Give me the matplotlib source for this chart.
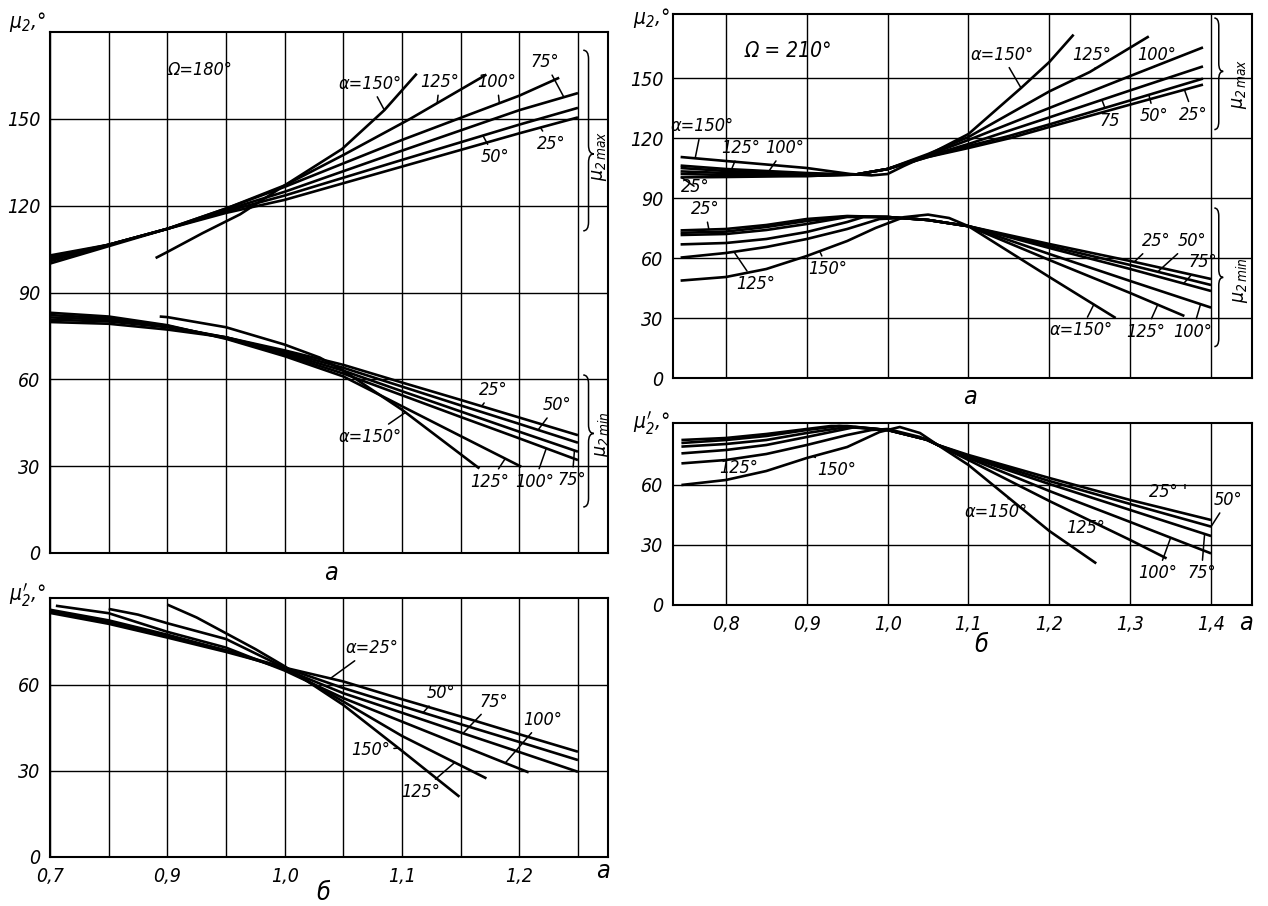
import numpy as np
import matplotlib
matplotlib.use('Agg')
import matplotlib.pyplot as plt
from matplotlib.path import Path
from matplotlib.patches import PathPatch

plt.rcParams['font.family'] = ['DejaVu Sans']
plt.rcParams['font.style'] = 'italic'
plt.rcParams['font.stretch'] = 'condensed'
plt.rcParams['mathtext.fontset'] = 'dejavusans'

ALPHAS = [25, 50, 75, 100, 125, 150]

# ---- a) Omega = 180 deg : mu2 max  (alpha -> (a, mu2))
tl_max = {
    25: ([0.7, 0.8, 0.9, 0.95, 1.0, 1.1, 1.2, 1.25], [100, 106, 112, 117.5, 122, 133.5, 145, 150.5]),
    50: ([0.7, 0.8, 0.9, 0.95, 1.0, 1.1, 1.2, 1.25], [100.8, 106.5, 112, 118, 123.5, 135.8, 148, 153.8]),
    75: ([0.7, 0.8, 0.9, 0.95, 1.0, 1.1, 1.2, 1.25], [101.5, 106.5, 112, 118.5, 124.8, 139, 153, 158.9]),
    100: ([0.7, 0.8, 0.9, 0.95, 1.0, 1.1, 1.2, 1.234], [102.2, 106.5, 112, 119, 126.5, 142.7, 158, 164.2]),
    125: ([0.7, 0.8, 0.9, 0.95, 1.0, 1.05, 1.107, 1.172], [102.8, 106.5, 112, 119, 127, 137.5, 150, 165.3]),
    150: ([0.88, 0.9, 0.93, 0.962, 1.0, 1.049, 1.085, 1.1126], [101.9, 104, 110.5, 117, 127, 139.6, 153, 165.6]),
}
# ---- a) Omega = 180 deg : mu2 min
tl_min = {
    25: ([0.7, 0.8, 0.9, 0.95, 1.0, 1.05, 1.1, 1.15, 1.2, 1.25], [79.8, 79.2, 77.2, 74.5, 70, 65, 58.9, 52.9, 46.8, 40.7]),
    50: ([0.7, 0.8, 0.9, 0.95, 1.0, 1.05, 1.1, 1.15, 1.2, 1.25], [80.6, 80, 78, 74.5, 69.5, 64, 57.5, 51, 44.6, 38.1]),
    75: ([0.7, 0.8, 0.9, 0.95, 1.0, 1.05, 1.1, 1.15, 1.2, 1.25], [81.4, 80.6, 78.3, 74.5, 69, 63, 55.9, 48.9, 41.9, 35]),
    100: ([0.7, 0.8, 0.9, 0.95, 1.0, 1.05, 1.1, 1.15, 1.2, 1.25], [82.2, 81.1, 78.5, 74.2, 68.5, 62, 54.5, 47, 39.6, 32.1]),
    125: ([0.7, 0.8, 0.9, 0.95, 1.0, 1.05, 1.1, 1.15, 1.2017], [83, 81.7, 78.7, 74, 68, 61, 50.7, 40.4, 29.8]),
    150: ([0.887, 0.9, 0.95, 1.0, 1.03, 1.05, 1.1, 1.166], [81.7, 81.5, 78, 72, 67.5, 63, 49.5, 29.2]),
}
# ---- б) Omega = 180 deg : mu2'
bl = {
    25: ([0.7, 0.8, 0.9, 0.95, 1.0, 1.05, 1.1, 1.15, 1.2, 1.25], [85.1, 81.3, 76.5, 71.5, 66, 61.2, 55, 49, 42.8, 36.7]),
    50: ([0.7, 0.8, 0.9, 0.95, 1.0, 1.05, 1.1, 1.15, 1.2, 1.25], [85.6, 81.8, 77, 72, 66, 58.9, 52.6, 46.3, 40.1, 33.8]),
    75: ([0.7, 0.8, 0.9, 0.95, 1.0, 1.05, 1.1, 1.15, 1.2, 1.25], [86.2, 82.5, 77.5, 72, 65.5, 57.1, 50.3, 43.4, 36.6, 29.7]),
    100: ([0.71, 0.8, 0.9, 0.95, 1.0, 1.05, 1.1, 1.15, 1.208], [87.6, 85, 78.5, 73, 65, 55.4, 47.2, 39, 29.5]),
    125: ([0.8, 0.85, 0.9, 0.95, 1.0, 1.05, 1.1, 1.172], [86.5, 84.5, 81.5, 76, 66, 54.2, 42.2, 27.4]),
    150: ([0.9, 0.925, 0.95, 0.975, 1.0, 1.05, 1.1, 1.149], [88, 83.5, 78, 72.5, 66.5, 53, 37, 21]),
}
# ---- a) Omega = 210 deg : mu2 max
tr_max = {
    25: ([0.744, 0.8, 0.9, 0.96, 1.0, 1.05, 1.1, 1.152, 1.2, 1.3, 1.39], [100.3, 100.5, 101, 101.7, 104.5, 110.5, 115, 120, 125.5, 136.7, 146.7]),
    50: ([0.744, 0.8, 0.9, 0.96, 1.0, 1.05, 1.1, 1.15, 1.2, 1.3, 1.39], [102, 101.5, 101, 101.7, 104.5, 110.5, 116, 121, 126.8, 138.8, 149.7]),
    75: ([0.744, 0.8, 0.9, 0.96, 1.0, 1.05, 1.1, 1.2, 1.3, 1.39], [103.3, 102.5, 101.5, 101.7, 104.5, 111, 117, 130.3, 143.8, 155.8]),
    100: ([0.744, 0.8, 0.9, 0.96, 1.0, 1.05, 1.1, 1.2, 1.3, 1.39], [105, 103.5, 102, 101.7, 104.5, 111.5, 119, 135, 151, 165.3]),
    125: ([0.744, 0.8, 0.9, 0.96, 1.0, 1.05, 1.1, 1.2, 1.25, 1.323], [106.2, 104.5, 102.5, 101.7, 104.5, 112, 120.5, 143.3, 153, 170.8]),
    150: ([0.744, 0.8, 0.9, 0.954, 0.98, 1.0, 1.02, 1.05, 1.1, 1.165, 1.2, 1.23], [110.5, 108.5, 105, 102, 101.3, 102, 106, 111.5, 122, 145, 158, 171.7]),
}
# ---- a) Omega = 210 deg : mu2 min
tr_min = {
    25: ([0.744, 0.8, 0.85, 0.9, 0.95, 1.0, 1.05, 1.1, 1.2, 1.3, 1.4], [73.8, 74.5, 76.5, 79.5, 81, 80.5, 79, 75.9, 67, 58.5, 49.5]),
    50: ([0.744, 0.8, 0.85, 0.9, 0.95, 1.0, 1.05, 1.1, 1.2, 1.3, 1.4], [72.6, 73.2, 75.5, 78.5, 80.8, 80.5, 79, 75.9, 66, 56.5, 46.5]),
    75: ([0.744, 0.8, 0.85, 0.9, 0.95, 1.0, 1.05, 1.1, 1.2, 1.3, 1.4], [71.5, 72, 74, 77, 80.5, 80.5, 79, 75.9, 65, 54.5, 43.5]),
    100: ([0.744, 0.8, 0.85, 0.9, 0.95, 0.97, 1.0, 1.05, 1.1, 1.2, 1.3, 1.4], [66.8, 67.5, 69.5, 73, 78, 80.5, 80.5, 79, 75.9, 62, 48.5, 35.2]),
    125: ([0.744, 0.8, 0.85, 0.9, 0.95, 0.99, 1.02, 1.05, 1.1, 1.2, 1.3, 1.367], [60.2, 62.5, 65.5, 69.5, 74.5, 79.5, 80, 79, 75.9, 59, 42.5, 31]),
    150: ([0.744, 0.8, 0.85, 0.9, 0.95, 0.985, 1.02, 1.05, 1.076, 1.1, 1.2, 1.282], [48.7, 50.5, 54.5, 61, 68.5, 75, 80.4, 81.7, 80, 75.9, 50.5, 30]),
}
# ---- б) Omega = 210 deg : mu2'
br = {
    25: ([0.745, 0.8, 0.85, 0.9, 0.93, 0.95, 1.0, 1.05, 1.062, 1.1, 1.2, 1.3, 1.4], [82.5, 83.5, 85.5, 88, 89.5, 89.5, 87.5, 82.5, 80, 75, 63.5, 52.5, 42.5]),
    50: ([0.745, 0.8, 0.85, 0.9, 0.94, 1.0, 1.05, 1.062, 1.1, 1.2, 1.3, 1.4], [81, 82.5, 84.5, 87.5, 89.5, 87.5, 82.5, 80, 74.5, 62, 50.5, 39.2]),
    75: ([0.745, 0.8, 0.85, 0.9, 0.95, 1.0, 1.05, 1.062, 1.1, 1.2, 1.3, 1.4], [79.2, 80.5, 82.5, 86, 89, 87.5, 82.5, 80, 74, 60.5, 47.5, 34.5]),
    100: ([0.745, 0.8, 0.85, 0.9, 0.96, 1.0, 1.05, 1.062, 1.1, 1.2, 1.3, 1.4], [75.8, 77.5, 80, 84, 89, 87.5, 82.5, 80, 73.5, 57, 41.5, 25.8]),
    125: ([0.745, 0.8, 0.85, 0.9, 0.95, 0.98, 1.0, 1.04, 1.062, 1.1, 1.2, 1.3, 1.345], [70.8, 72.5, 75.5, 80, 85, 87.5, 88, 84, 80, 72.5, 52, 32.5, 23.3]),
    150: ([0.745, 0.8, 0.85, 0.9, 0.95, 0.99, 1.015, 1.04, 1.062, 1.1, 1.2, 1.258], [60, 62.5, 67, 73.5, 79, 86.5, 89, 86, 80, 70, 37, 20.8]),
}

left_ticks = [0.7, 0.8, 0.9, 0.95, 1.0, 1.05, 1.1, 1.15, 1.2, 1.25]
left_labels = ['0,7', '', '0,9', '', '1,0', '', '1,1', '', '1,2', '']
right_ticks = [0.8, 0.9, 1.0, 1.1, 1.2, 1.3, 1.4]
right_labels = ['0,8', '0,9', '1,0', '1,1', '1,2', '1,3', '1,4']


def fwd(x):
    x = np.asarray(x, dtype=float)
    return np.where(x < 0.9, 0.9 - (0.9 - x) / 2, x)


def inv(u):
    u = np.asarray(u, dtype=float)
    return np.where(u < 0.9, 0.9 - (0.9 - u) * 2, u)


def setup(ax, xlim, ylim, yticks, xticks, xlabels, broken=False):
    if broken:
        ax.set_xscale('function', functions=(fwd, inv))
    ax.set_xlim(*xlim)
    ax.set_ylim(*ylim)
    ax.set_xticks(xticks)
    ax.set_xticklabels(xlabels)
    ax.set_yticks(yticks)
    ax.set_yticklabels([str(v) for v in yticks])
    ax.grid(True, color='black', lw=1.0)
    ax.set_axisbelow(True)
    ax.tick_params(length=0, labelsize=14, pad=7)
    for s in ax.spines.values():
        s.set_linewidth(1.5)


def curves(ax, data):
    for a in ALPHAS:
        xs, ys = data[a]
        ax.plot(xs, ys, color='black', lw=1.9, solid_capstyle='butt')


def tag(ax, text, txy, data, a, at, size=13):
    xs, ys = data[a]
    pt = (at, float(np.interp(at, xs, ys)))
    ax.annotate(text, xy=pt, xytext=txy, ha='center', va='center', fontsize=size,
                arrowprops=dict(arrowstyle='-', lw=1.1, color='black', shrinkA=1, shrinkB=0),
                annotation_clip=False)


def brace(ax, x, y0, y1, w, d, ym=None):
    if ym is None:
        ym = (y0 + y1) / 2
    h = x + w / 2
    verts = [(x, y1), (h, y1), (h, y1 - d), (h, ym + d), (h, ym), (x + w, ym),
             (h, ym), (h, ym - d), (h, y0 + d), (h, y0), (x, y0)]
    codes = [Path.MOVETO, Path.CURVE3, Path.CURVE3, Path.LINETO, Path.CURVE3, Path.CURVE3,
             Path.CURVE3, Path.CURVE3, Path.LINETO, Path.CURVE3, Path.CURVE3]
    ax.add_patch(PathPatch(Path(verts, codes), fill=False, lw=1.1, ec='black', clip_on=False))


fig = plt.figure(figsize=(12.68, 9.06), dpi=100)
W, H = 1268, 906


def px(x, y):
    return x / W, 1 - y / H


ax1 = fig.add_axes([50 / W, 1 - 553 / H, 558 / W, 521 / H])
ax2 = fig.add_axes([50 / W, 1 - 857 / H, 558 / W, 259 / H])
ax3 = fig.add_axes([673 / W, 1 - 378 / H, 579 / W, 364 / H])
ax4 = fig.add_axes([673 / W, 1 - 605 / H, 579 / W, 182 / H])

setup(ax1, (0.7, 1.2756), (0, 180), [0, 30, 60, 90, 120, 150], left_ticks, [''] * 10, broken=True)
setup(ax2, (0.7, 1.2756), (0, 90.3), [0, 30, 60], left_ticks, left_labels, broken=True)
setup(ax3, (0.7346, 1.4506), (0, 182), [0, 30, 60, 90, 120, 150], right_ticks, [''] * 7)
setup(ax4, (0.7346, 1.4506), (0, 91), [0, 30, 60], right_ticks, right_labels)

# ---------- top left, Omega = 180
curves(ax1, tl_max)
curves(ax1, tl_min)
ax1.text(0.9, 166.7, 'Ω=180°', fontsize=13, va='center')
tag(ax1, 'α=150°', (1.073, 162.1), tl_max, 150, 1.085)
tag(ax1, '125°', (1.132, 162.7), tl_max, 125, 1.13)
tag(ax1, '100°', (1.181, 162.7), tl_max, 100, 1.183)
tag(ax1, '75°', (1.222, 169.6), tl_max, 75, 1.238)
tag(ax1, '50°', (1.179, 136.7), tl_max, 50, 1.169)
tag(ax1, '25°', (1.227, 141.3), tl_max, 25, 1.218)
tag(ax1, '25°', (1.178, 56.3), tl_min, 25, 1.168)
tag(ax1, '50°', (1.232, 51.1), tl_min, 50, 1.216)
tag(ax1, 'α=150°', (1.073, 40.2), tl_min, 150, 1.103)
tag(ax1, '125°', (1.175, 24.6), tl_min, 125, 1.188)
tag(ax1, '100°', (1.213, 24.6), tl_min, 100, 1.223)
tag(ax1, '75°', (1.245, 25.2), tl_min, 75, 1.247)
brace(ax1, 1.2545, 111.3, 173.7, 0.009, 3.0, ym=137.9)
ax1.text(1.2685, 137, r'$\mu_{2\,max}$', rotation=90, ha='center', va='center', fontsize=14)
brace(ax1, 1.2545, 15.9, 61.5, 0.009, 3.0, ym=41.3)
ax1.text(1.2705, 41, r'$\mu_{2\,min}$', rotation=90, ha='center', va='center', fontsize=14)

# ---------- bottom left
curves(ax2, bl)
tag(ax2, 'α=25°', (1.0745, 72.8), bl, 25, 1.039)
tag(ax2, '50°', (1.133, 57.1), bl, 50, 1.118)
tag(ax2, '75°', (1.178, 54.2), bl, 75, 1.152)
tag(ax2, '100°', (1.22, 47.8), bl, 100, 1.188)
tag(ax2, '150°', (1.073, 37.3), bl, 150, 1.097)
tag(ax2, '125°', (1.116, 22.7), bl, 125, 1.145)

# ---------- top right, Omega = 210
curves(ax3, tr_max)
curves(ax3, tr_min)
ax3.text(0.823, 163.3, 'Ω = 210°', fontsize=15, va='center')
tag(ax3, 'α=150°', (1.141, 161.7), tr_max, 150, 1.165)
tag(ax3, '125°', (1.252, 161.7), tr_max, 125, 1.257)
tag(ax3, '100°', (1.333, 161.7), tr_max, 100, 1.33)
tag(ax3, '75', (1.275, 128.3), tr_max, 75, 1.265)
tag(ax3, '50°', (1.33, 130.8), tr_max, 50, 1.323)
tag(ax3, '25°', (1.378, 131.7), tr_max, 25, 1.367)
tag(ax3, 'α=150°', (0.77, 125.8), tr_max, 150, 0.762)
tag(ax3, '125°', (0.818, 115), tr_max, 125, 0.807)
tag(ax3, '100°', (0.873, 115), tr_max, 100, 0.852)
tag(ax3, '25°', (0.762, 95.5), tr_max, 25, 0.745)
tag(ax3, '25°', (0.774, 84.5), tr_min, 25, 0.779)
tag(ax3, '125°', (0.837, 47), tr_min, 125, 0.81)
tag(ax3, '150°', (0.926, 54.5), tr_min, 150, 0.916)
tag(ax3, 'α=150°', (1.239, 23.9), tr_min, 150, 1.255)
tag(ax3, '125°', (1.319, 23.1), tr_min, 125, 1.334)
tag(ax3, '100°', (1.377, 23.1), tr_min, 100, 1.387)
tag(ax3, '25°', (1.332, 68.5), tr_min, 25, 1.305)
tag(ax3, '50°', (1.376, 68.5), tr_min, 50, 1.334)
tag(ax3, '75°', (1.39, 58), tr_min, 75, 1.366)
brace(ax3, 1.404, 124.2, 180, 0.011, 4.0, ym=153.3)
ax3.text(1.435, 147, r'$\mu_{2\,max}$', rotation=90, ha='center', va='center', fontsize=14)
brace(ax3, 1.404, 15.7, 85, 0.011, 4.0, ym=50.3)
ax3.text(1.436, 48.7, r'$\mu_{2\,min}$', rotation=90, ha='center', va='center', fontsize=14)

# ---------- bottom right
curves(ax4, br)
tag(ax4, '125°', (0.816, 68.3), br, 125, 0.787)
tag(ax4, '150°', (0.937, 67.5), br, 150, 0.908)
tag(ax4, 'α=150°', (1.134, 46.7), br, 150, 1.15)
tag(ax4, '125°', (1.245, 38.3), br, 125, 1.24)
ax4.text(1.347, 56.7, "25° '", fontsize=13, ha='center', va='center')
tag(ax4, '50°', (1.421, 52.5), br, 50, 1.4)
tag(ax4, '100°', (1.334, 15.8), br, 100, 1.35)
tag(ax4, '75°', (1.388, 15.8), br, 75, 1.392)

# ---------- axis / panel labels
fig.text(*px(46, 22), r'$\mu_2$,°', ha='right', va='center', fontsize=15)
fig.text(*px(46, 595), r"$\mu^{\prime}_2$,°", ha='right', va='center', fontsize=15)
fig.text(*px(670, 18), r'$\mu_2$,°', ha='right', va='center', fontsize=15)
fig.text(*px(670, 423), r"$\mu^{\prime}_2$,°", ha='right', va='center', fontsize=15)
fig.text(*px(603, 871), 'a', ha='center', va='center', fontsize=18)
fig.text(*px(1246, 623), 'a', ha='center', va='center', fontsize=18)
fig.text(*px(331, 573), 'а', ha='center', va='center', fontsize=18)
fig.text(*px(970, 397), 'а', ha='center', va='center', fontsize=18)
fig.text(*px(323, 893), 'б', ha='center', va='center', fontsize=18)
fig.text(*px(981, 645), 'б', ha='center', va='center', fontsize=18)

fig.savefig('out.png', dpi=100, facecolor='white')
